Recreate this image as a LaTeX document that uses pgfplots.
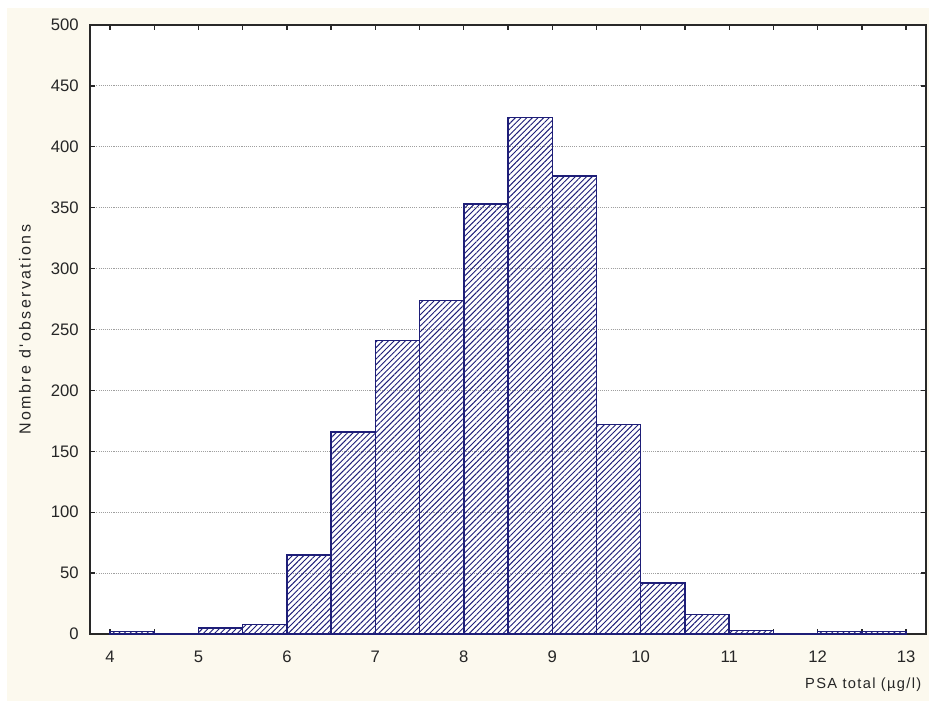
\documentclass[border=0pt]{standalone}
\usepackage{pgfplots}
\pgfplotsset{compat=1.18}
\usetikzlibrary{patterns.meta}
\usepackage{fontspec}
\setmainfont{Liberation Sans}
\newfontfamily\ylabfont[LetterSpace=15]{Liberation Sans}
\newfontfamily\xlabfont[LetterSpace=9]{Liberation Sans}
\definecolor{cream}{RGB}{252,249,238}
\definecolor{navy}{RGB}{30,30,120}
\definecolor{frame}{RGB}{40,40,40}
\begin{document}
\begin{tikzpicture}
\useasboundingbox (-67.5pt,-50.25pt) rectangle (629.25pt,475.5pt);
\fill[white] (-67.5pt,-50.25pt) rectangle (629.25pt,475.5pt);
\fill[cream] (-62.25pt,-50.25pt) rectangle (629.25pt,469.5pt);
\begin{axis}[
  scale only axis,
  width=627pt, height=456.75pt,
  xmin=3.774, xmax=13.225,
  ymin=0, ymax=500,
  xtick={4,...,13},
  minor xtick={4.5,5.5,...,12.5},
  ytick={0,50,...,500},
  ymajorgrids,
  major grid style={draw=gray!75, line width=0.7pt, dash pattern=on 0.8pt off 0.8pt},
  axis background/.style={fill=white},
  axis line style={draw=frame, line width=1.3pt},
  tick align=inside,
  tick pos=both,
  major tick length=4pt,
  minor tick length=4pt,
  every tick/.style={draw=frame, line width=1pt},
  /pgf/number format/assume math mode=true,
  ticklabel style={font=\fontsize{12.5}{13}\selectfont, text=black!85},
  xticklabel style={yshift=-9pt},
  yticklabel style={xshift=-5pt},
  every axis y label/.style={at={(axis description cs:0,0.5)}, xshift=-48.75pt, rotate=90, anchor=center, font=\ylabfont\fontsize{12}{13}\selectfont, text=black!85},
  every axis x label/.style={at={(axis description cs:1,0)}, anchor=east, yshift=-38.25pt, font=\xlabfont\fontsize{11}{12}\selectfont, text=black!85},
  ylabel={Nombre d'observations},
  xlabel={PSA total (µg/l)},
]
\addplot[ybar interval, draw=navy, line width=1.1pt,
  pattern={Lines[angle=45, distance=3pt, line width=0.7pt]}, pattern color=navy]
coordinates {
(4,2) (4.5,0) (5,5) (5.5,8) (6,65) (6.5,166) (7,241) (7.5,274) (8,353)
(8.5,424) (9,376) (9.5,172) (10,42) (10.5,16) (11,3) (11.5,0) (12,2) (12.5,2) (13,0)
};
\end{axis}
\end{tikzpicture}
\end{document}
